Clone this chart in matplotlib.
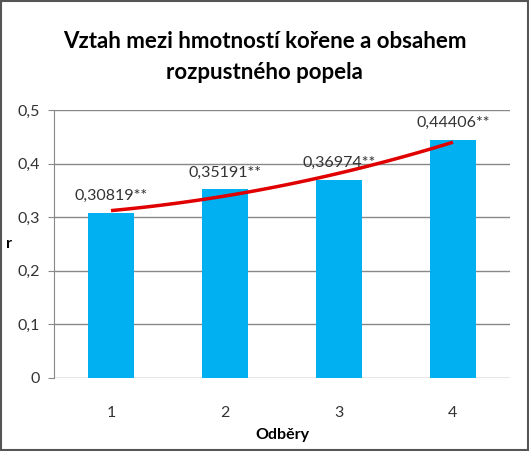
import numpy as np
import matplotlib.pyplot as plt
from matplotlib.ticker import FuncFormatter
from matplotlib.patches import Rectangle

odbery = [1, 2, 3, 4]
r_values = [0.30819, 0.35191, 0.36974, 0.44406]
labels = ["0,30819**", "0,35191**", "0,36974**", "0,44406**"]

plt.rcParams['font.family'] = ["Lato", "DejaVu Sans"]

fig = plt.figure(figsize=(5.29, 4.51), dpi=100)
ax = fig.add_axes([0.102, 0.162, 0.862, 0.594])

x = np.arange(len(odbery))
ax.bar(x, r_values, width=0.4, color='#00B0F0', zorder=2)

# polynomial trend line, 2nd order (like Excel)
coef = np.polyfit(np.array(odbery), r_values, 2)
xs = np.linspace(1, 4, 100)
ax.plot(xs - 1, np.polyval(coef, xs), color='#E00000', lw=2.5, zorder=3,
        solid_capstyle='butt')

for xi, v, lab in zip(x, r_values, labels):
    ax.annotate(lab, (xi, v), xytext=(0, 7), textcoords='offset points',
                ha='center', va='bottom', fontsize=11.5, color='#333333')

ax.set_xlim(-0.5, 3.5)
ax.set_ylim(0, 0.5)
ax.set_yticks(np.arange(0, 0.51, 0.1))
ax.yaxis.set_major_formatter(FuncFormatter(lambda v, p: ('%g' % round(v, 1)).replace('.', ',')))
ax.set_xticks(x)
ax.set_xticklabels([str(o) for o in odbery])
ax.grid(axis='y', color='#888888', lw=1, zorder=0)
for s in ['top', 'right', 'bottom']:
    ax.spines[s].set_visible(False)
ax.spines['left'].set_color('#888888')
ax.tick_params(axis='x', length=0, pad=20, labelsize=11.5, labelcolor='#333333')
ax.tick_params(axis='y', length=4, color='#888888', labelsize=11.5, pad=6,
               labelcolor='#333333')

ax.set_xlabel("Odběry", fontsize=11.5, fontweight='bold', labelpad=6)
fig.text(0.012, 0.46, "r", fontsize=11.5, fontweight='bold', ha='left', va='center')

fig.text(0.5, 0.907, "Vztah mezi hmotností kořene a obsahem", fontsize=16,
         fontweight='bold', ha='center', va='center')
fig.text(0.5, 0.84, "rozpustného popela", fontsize=16,
         fontweight='bold', ha='center', va='center')

fig.patches.append(Rectangle((0.002, 0.002), 0.996, 0.996, transform=fig.transFigure,
                             fill=False, edgecolor='#555555', lw=1.5))

fig.savefig("out.png", dpi=100)
